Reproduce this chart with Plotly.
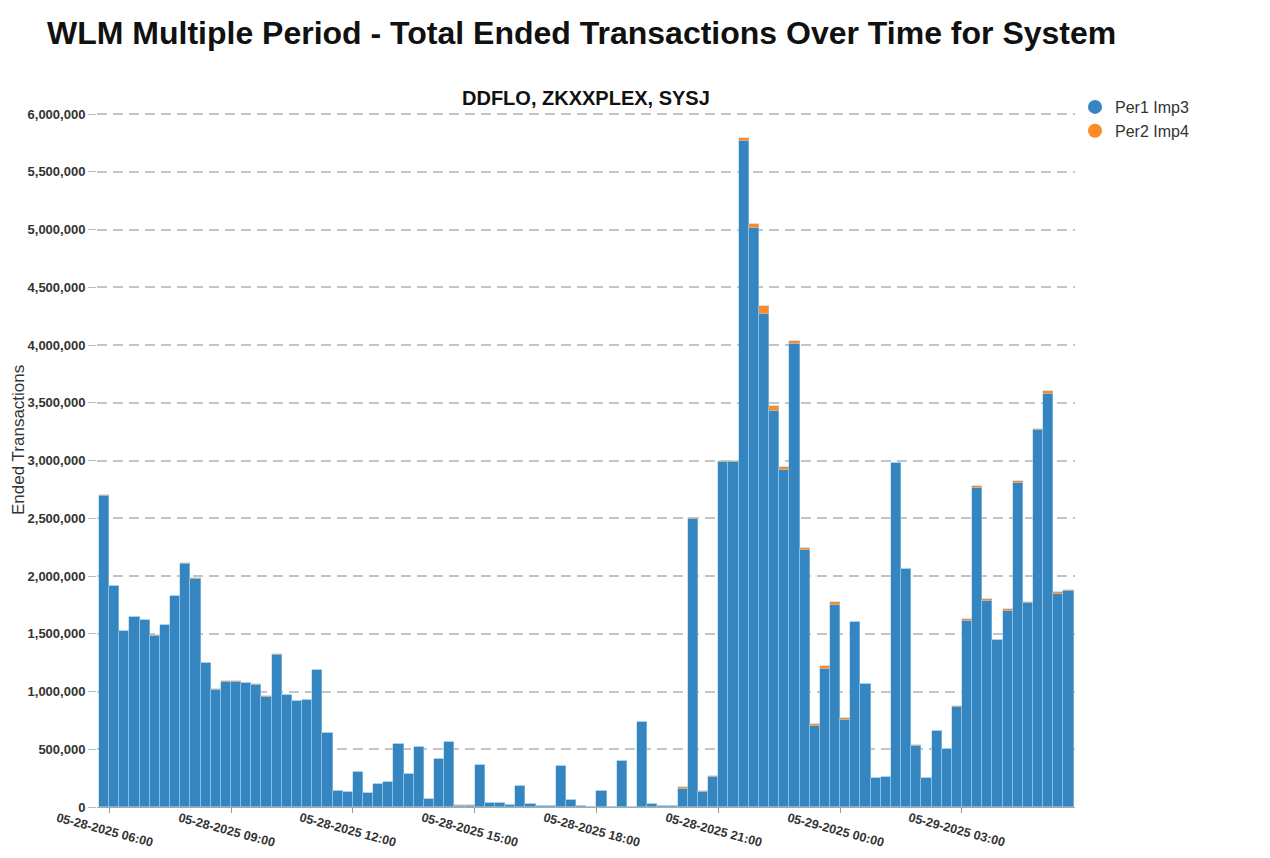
import pandas as pd
import plotly.graph_objects as go

# ---------------- data ----------------
start_time = "2025-05-28 05:45"
n_intervals = 96
interval = "15min"

per1_imp3 = [
    2695000, 1912000, 1522000, 1643000, 1617000, 1482000, 1577000, 1825000,
    2108000, 1975000, 1248000, 1017000, 1084000, 1084000, 1072000, 1058000,
    953000, 1318000, 968000, 919000, 923000, 1186000, 637000, 140000,
    133000, 300000, 118000, 196000, 213000, 545000, 282000, 519000,
    66000, 414000, 562000, 13000, 13000, 362000, 31000, 31000,
    19000, 184000, 22000, 11000, 5000, 352000, 57000, 5000,
    3000, 135000, 3000, 400000, 3000, 732000, 25000, 5000,
    5000, 160000, 2490000, 128000, 262000, 2988000, 2990000, 5770000,
    5015000, 4265000, 3425000, 2920000, 4010000, 2225000, 705000, 1196000,
    1749000, 757000, 1602000, 1064000, 253000, 262000, 2975000, 2060000,
    531000, 253000, 658000, 499000, 868000, 1608000, 2762000, 1785000,
    1443000, 1697000, 2806000, 1770000, 3264000, 3580000, 1845000, 1874000,
]
per2_imp4 = [
    3000, 3000, 3000, 3000, 3000, 8000, 3000, 3000,
    4000, 9000, 3000, 3000, 3000, 3000, 3000, 3000,
    4000, 3000, 3000, 3000, 3000, 3000, 2000, 1000,
    1000, 1000, 1000, 1000, 1000, 1000, 1000, 1000,
    1000, 1000, 1000, 500, 500, 1000, 500, 500,
    500, 1000, 500, 500, 500, 1000, 500, 500,
    500, 1000, 500, 1000, 500, 2000, 500, 500,
    500, 10000, 12000, 14000, 10000, 8000, 8000, 25000,
    30000, 70000, 50000, 20000, 25000, 20000, 10000, 25000,
    23000, 18000, 4000, 3000, 2000, 2000, 5000, 4000,
    2000, 2000, 2000, 2000, 3000, 18000, 20000, 15000,
    6000, 14000, 20000, 3000, 10000, 18000, 13000, 3000,
]
series_names = ["Per1 Imp3", "Per2 Imp4"]
series_colors = ["#3585c1", "#fd8b25"]

tick_times = ["2025-05-28 06:00", "2025-05-28 09:00", "2025-05-28 12:00",
              "2025-05-28 15:00", "2025-05-28 18:00", "2025-05-28 21:00",
              "2025-05-29 00:00", "2025-05-29 03:00"]
tick_labels = ["05-28-2025 06:00", "05-28-2025 09:00", "05-28-2025 12:00",
               "05-28-2025 15:00", "05-28-2025 18:00", "05-28-2025 21:00",
               "05-29-2025 00:00", "05-29-2025 03:00"]
y_ticks = [0, 500000, 1000000, 1500000, 2000000, 2500000, 3000000,
           3500000, 4000000, 4500000, 5000000, 5500000, 6000000]
y_max = 6018000

title_text = "WLM Multiple Period - Total Ended Transactions Over Time for System"
subtitle_text = "DDFLO, ZKXXPLEX, SYSJ"
y_title = "Ended Transactions"

# ---------------- layout geometry ----------------
OFF = 8  # default page body margin
W, H = 1270 - 2 * OFF, 858 - 2 * OFF
ML, MT = 97 - OFF, 112 - OFF
PR, PB = 1075 - OFF, 807 - OFF
MR, MB = W - PR, H - PB
PW, PH = PR - ML, PB - MT

FONT = "Liberation Sans, Arial, sans-serif"

times = pd.date_range(start_time, periods=n_intervals, freq=interval)
width_ms = pd.Timedelta(interval).total_seconds() * 1000

fig = go.Figure()
for name, vals, col in zip(series_names, [per1_imp3, per2_imp4], series_colors):
    fig.add_trace(go.Bar(
        x=times, y=vals, name=name, width=width_ms, offset=0,
        marker=dict(color=col, line=dict(color="rgba(160,205,235,0.9)", width=0.6)),
        showlegend=False,
    ))
for name, col in zip(series_names, series_colors):
    fig.add_trace(go.Scatter(
        x=[None], y=[None], mode="markers", name=name,
        marker=dict(symbol="circle", size=14, color=col),
    ))

fig.update_layout(
    width=W, height=H,
    margin=dict(l=ML, r=MR, t=MT, b=MB, pad=0),
    barmode="stack", bargap=0,
    plot_bgcolor="white", paper_bgcolor="white",
    font=dict(family=FONT, color="#333333"),
    title=dict(text=title_text, x=(47 - OFF) / W, xanchor="left", xref="container",
               y=1 - (33 - OFF) / H, yanchor="middle", yref="container",
               font=dict(family=FONT, size=32, color="#111111", weight="bold")),
    legend=dict(x=(1075 - ML - OFF) / PW, xanchor="left",
                y=1 + (MT - (90 - OFF)) / PH, yanchor="top",
                traceorder="normal",
                font=dict(family=FONT, size=16, color="#333333"),
                tracegroupgap=0, itemwidth=30, bgcolor="rgba(0,0,0,0)"),
    xaxis=dict(type="date", range=["2025-05-28 05:42", "2025-05-29 05:47"],
               tickvals=tick_times, showticklabels=False,
               ticks="outside", ticklen=5, tickcolor="#999999",
               showgrid=False, showline=True, linecolor="#aaaaaa", linewidth=1,
               zeroline=False),
    yaxis=dict(range=[0, y_max], tickvals=y_ticks, tickformat=",d",
               ticks="outside", ticklen=8, tickcolor="#bbbbbb",
               tickfont=dict(family=FONT, size=13, color="#333333", weight="bold"),
               showgrid=True, gridcolor="#c4c4c4", gridwidth=1.5, griddash="10px,6px",
               showline=False, zeroline=False),
)

# subtitle
fig.add_annotation(text=subtitle_text, xref="paper", yref="paper", x=0.5,
                   y=1 + (MT - (98 - OFF)) / PH, yanchor="middle", showarrow=False,
                   font=dict(family=FONT, size=20, color="#111111", weight="bold"))
# y axis title
fig.add_annotation(text=y_title, xref="paper", yref="paper",
                   x=((18 - OFF) - ML) / PW, xanchor="center",
                   y=(PB - (440 - OFF)) / PH, yanchor="middle", textangle=-90,
                   showarrow=False, font=dict(family=FONT, size=17, color="#333333"))
# rotated x tick labels
for t, lab in zip(tick_times, tick_labels):
    fig.add_annotation(text=lab, x=t, xref="x", y=0, yref="paper",
                       yanchor="middle", xanchor="center", yshift=-23, xshift=-5,
                       textangle=15, showarrow=False,
                       font=dict(family=FONT, size=12.5, color="#333333", weight="bold"))

fig.write_html("out.html")
